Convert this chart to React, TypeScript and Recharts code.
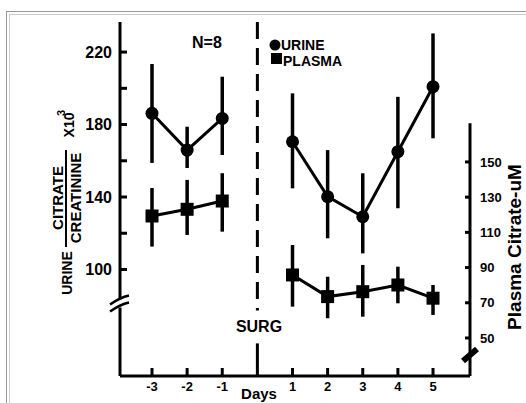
import { LineChart, Line, XAxis, YAxis, ErrorBar, ReferenceLine, ReferenceDot } from "recharts";

const FONT = '"Liberation Sans", Arial, sans-serif';

const preDays = [-3, -2, -1];
const postDays = [1, 2, 3, 4, 5];
const dayTicks = [-3, -2, -1, 1, 2, 3, 4, 5];

// urine citrate / creatinine x10^3 (left axis)
const urinePre = [186.2, 165.9, 183.4];
const urinePreLo = [158.8, 156.0, 163.2];
const urinePreHi = [213.4, 178.8, 206.4];
const urinePost = [170.5, 140.2, 129.1, 165.0, 200.9];
const urinePostLo = [144.8, 117.2, 108.9, 133.8, 172.4];
const urinePostHi = [197.2, 165.9, 153.1, 195.3, 230.3];

// plasma citrate uM (right axis)
const plasmaPre = [119.3, 123.1, 127.8];
const plasmaPreLo = [101.9, 108.5, 110.4];
const plasmaPreHi = [135.2, 139.8, 143.6];
const plasmaPost = [85.8, 73.5, 76.3, 80.1, 72.6];
const plasmaPostLo = [67.8, 61.2, 62.1, 69.7, 63.1];
const plasmaPostHi = [102.8, 84.8, 91.5, 90.5, 80.1];

const leftTicks = [100, 120, 140, 160, 180, 200, 220];
const rightTicks = [50, 70, 90, 110, 130, 150];

const X_DOMAIN: [number, number] = [-3.911, 6.053];
const LEFT_DOMAIN: [number, number] = [41.2, 236.6];
const RIGHT_DOMAIN: [number, number] = [28.4, 229.5];

function rows(days: number[], vals: number[], lo: number[], hi: number[]) {
  return days.map((d, i) => ({ day: d, value: vals[i], err: [vals[i] - lo[i], hi[i] - vals[i]] }));
}

const urinePreRows = rows(preDays, urinePre, urinePreLo, urinePreHi);
const urinePostRows = rows(postDays, urinePost, urinePostLo, urinePostHi);
const plasmaPreRows = rows(preDays, plasmaPre, plasmaPreLo, plasmaPreHi);
const plasmaPostRows = rows(postDays, plasmaPost, plasmaPostLo, plasmaPostHi);

const tickStyle = { fontSize: 16, fontWeight: 700, fill: "#000", fontFamily: FONT };

const squareDot = (p: any) => (
  <rect key={p.key ?? p.index} x={p.cx - 6.5} y={p.cy - 6.5} width={13} height={13} fill="#000" />
);

const circleDot = { r: 6.5, fill: "#000", stroke: "#000", strokeWidth: 0 };

const leftBreak = (p: any) => (
  <g>
    <rect x={p.cx - 4} y={p.cy - 4} width={8} height={8} fill="#fff" />
    <path d={`M${p.cx - 10},${p.cy + 1} Q${p.cx},${p.cy - 6} ${p.cx + 9},${p.cy - 8}`} stroke="#000" strokeWidth={2.5} fill="none" />
    <path d={`M${p.cx - 10},${p.cy + 8} Q${p.cx},${p.cy + 1} ${p.cx + 9},${p.cy - 1}`} stroke="#000" strokeWidth={2.5} fill="none" />
  </g>
);

const rightBreak = (p: any) => (
  <line x1={p.cx - 7} y1={p.cy + 6} x2={p.cx + 7} y2={p.cy - 6} stroke="#000" strokeWidth={6} />
);

export default function App() {
  const lineProps = {
    dataKey: "value",
    stroke: "#000",
    strokeWidth: 3,
    activeDot: false,
    isAnimationActive: false,
  } as const;
  const bar = <ErrorBar dataKey="err" direction="y" width={0} stroke="#000" strokeWidth={3.5} />;

  return (
    <div style={{ position: "absolute", left: 0, top: 0, width: 526, height: 403, background: "#fff" }}>
      <LineChart width={526} height={403} margin={{ top: 22, right: 0, bottom: 0, left: 0 }}>
        <XAxis
          type="number"
          dataKey="day"
          domain={X_DOMAIN}
          ticks={dayTicks}
          interval={0}
          height={27}
          tickSize={-8}
          tickMargin={14}
          axisLine={{ stroke: "#000", strokeWidth: 3 }}
          tickLine={{ stroke: "#000", strokeWidth: 3 }}
          tick={{ ...tickStyle, fontSize: 13 }}
          allowDataOverflow
        />
        <YAxis
          yAxisId="left"
          orientation="left"
          width={120}
          domain={LEFT_DOMAIN}
          ticks={leftTicks}
          interval={0}
          tickSize={-7}
          tickMargin={15}
          tickFormatter={(v: number) => (v % 40 === 20 ? String(v) : "")}
          axisLine={{ stroke: "#000", strokeWidth: 3 }}
          tickLine={{ stroke: "#000", strokeWidth: 3 }}
          tick={tickStyle}
          allowDataOverflow
        />
        <YAxis
          yAxisId="right"
          orientation="right"
          width={56}
          domain={RIGHT_DOMAIN}
          ticks={rightTicks}
          interval={0}
          tickSize={-5}
          tickMargin={15}
          axisLine={false}
          tickLine={{ stroke: "#000", strokeWidth: 3 }}
          tick={{ ...tickStyle, fontSize: 13 }}
          allowDataOverflow
        />

        <ReferenceLine
          yAxisId="right"
          segment={[{ x: X_DOMAIN[1], y: RIGHT_DOMAIN[0] }, { x: X_DOMAIN[1], y: 172 }]}
          stroke="#000"
          strokeWidth={3}
          ifOverflow="visible"
        />
        <ReferenceLine
          yAxisId="left"
          segment={[{ x: 0, y: LEFT_DOMAIN[1] }, { x: 0, y: 77.4 }]}
          stroke="#000"
          strokeWidth={3}
          strokeDasharray="17 9"
          ifOverflow="visible"
        />
        <ReferenceLine
          yAxisId="left"
          segment={[{ x: 0, y: 59.2 }, { x: 0, y: LEFT_DOMAIN[0] }]}
          stroke="#000"
          strokeWidth={3}
          ifOverflow="visible"
        />
        <ReferenceDot yAxisId="left" x={X_DOMAIN[0]} y={81.2} shape={leftBreak} ifOverflow="visible" />
        <ReferenceDot yAxisId="right" x={X_DOMAIN[1]} y={40.3} shape={rightBreak} ifOverflow="visible" />

        <Line {...lineProps} yAxisId="left" data={urinePreRows} dot={circleDot}>{bar}</Line>
        <Line {...lineProps} yAxisId="left" data={urinePostRows} dot={circleDot}>{bar}</Line>
        <Line {...lineProps} yAxisId="right" data={plasmaPreRows} dot={squareDot}>{bar}</Line>
        <Line {...lineProps} yAxisId="right" data={plasmaPostRows} dot={squareDot}>{bar}</Line>
      </LineChart>

      <svg
        width={526}
        height={403}
        style={{ position: "absolute", left: 0, top: 0, pointerEvents: "none" }}
        fontFamily={FONT}
        fontWeight={700}
      >
        <line x1={6} y1={11.5} x2={526} y2={11.5} stroke="#999" />
        <line x1={6.5} y1={11} x2={6.5} y2={403} stroke="#999" />
        <line x1={9} y1={14.5} x2={526} y2={14.5} stroke="#ccc" />
        <line x1={9.5} y1={14} x2={9.5} y2={403} stroke="#ccc" />

        <text x={192} y={48} fontSize={16}>N=8</text>

        <circle cx={275} cy={45} r={5.5} fill="#000" />
        <text x={281} y={49.5} fontSize={14}>URINE</text>
        <rect x={271} y={53} width={11} height={11} fill="#000" />
        <text x={283} y={65.5} fontSize={14}>PLASMA</text>

        <text x={259} y={332} fontSize={16} textAnchor="middle">SURG</text>
        <text x={259} y={399} fontSize={15} textAnchor="middle">Days</text>

        <text transform="translate(67,273) rotate(-90)" fontSize={14} textAnchor="middle" dominantBaseline="central">URINE</text>
        <text transform="translate(57,198) rotate(-90)" fontSize={15} textAnchor="middle" dominantBaseline="central">CITRATE</text>
        <line x1={66} y1={150} x2={66} y2={247} stroke="#000" strokeWidth={2} />
        <text transform="translate(75.5,198) rotate(-90)" fontSize={15} textAnchor="middle" dominantBaseline="central">CREATININE</text>
        <text transform="translate(69,125) rotate(-90)" fontSize={14} textAnchor="middle" dominantBaseline="central">X10</text>
        <text transform="translate(61,113) rotate(-90)" fontSize={11} textAnchor="middle" dominantBaseline="central">3</text>

        <text transform="translate(521,247) rotate(-90)" fontSize={19} textAnchor="middle">Plasma Citrate-uM</text>
      </svg>
    </div>
  );
}
